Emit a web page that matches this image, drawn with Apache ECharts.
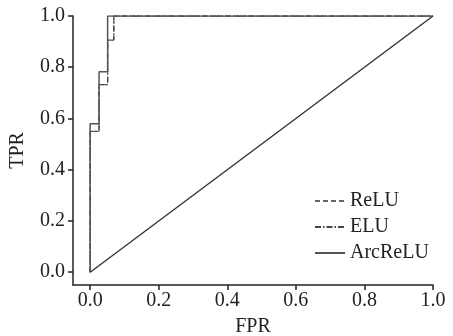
<!DOCTYPE html>
<html>
<head>
<meta charset="utf-8">
<script src="https://cdn.jsdelivr.net/npm/echarts@6/dist/echarts.min.js"></script>
<style>html,body{margin:0;padding:0;background:#fff}#c{width:453px;height:336px}</style>
</head>
<body>
<div id="c"></div>
<script>
var tickValues = [0, 0.2, 0.4, 0.6, 0.8, 1.0];
var reluFPR = [0, 0, 0.026, 0.026, 0.051, 0.051, 0.069, 0.069, 1.0];
var reluTPR = [0, 0.55, 0.55, 0.732, 0.732, 0.906, 0.906, 1.0, 1.0];
var eluFPR = [0, 0, 0.026, 0.026, 0.051, 0.051, 0.069, 0.069, 1.0];
var eluTPR = [0, 0.55, 0.55, 0.732, 0.732, 0.906, 0.906, 1.0, 1.0];
var arcFPR = [0, 0, 0.026, 0.026, 0.051, 0.051, 1.0];
var arcTPR = [0, 0.579, 0.579, 0.782, 0.782, 1.0, 1.0];
var diagFPR = [0, 1.0];
var diagTPR = [0, 1.0];

function pairs(xs, ys) { return xs.map(function (x, i) { return [x, ys[i]]; }); }

var font = "Liberation Serif";
var chart = echarts.init(document.getElementById('c'), null, { renderer: 'canvas' });
chart.setOption({
  animation: false,
  backgroundColor: '#fff',
  grid: { left: 73, right: 20, top: 16, bottom: 51, containLabel: false, outerBoundsMode: 'none' },
  legend: {
    orient: 'vertical', left: 309, top: 186,
    itemWidth: 30, itemHeight: 14, itemGap: 6,
    itemStyle: { opacity: 0 },
    textStyle: { fontFamily: font, fontSize: 20, color: '#222' },
    data: ['ReLU', 'ELU', 'ArcReLU']
  },
  xAxis: {
    type: 'value', min: -0.05, max: 1.0,
    name: 'FPR', nameLocation: 'middle', nameGap: 32,
    nameTextStyle: { fontFamily: font, fontSize: 20, color: '#222' },
    splitLine: { show: false },
    axisLine: { show: true, onZero: false, lineStyle: { color: '#222', width: 1.5 } },
    axisTick: { show: true, inside: false, length: 5, customValues: tickValues, lineStyle: { color: '#222', width: 1.5 } },
    axisLabel: { customValues: tickValues, margin: 6, fontFamily: font, fontSize: 20, color: '#222',
      formatter: function (v) { return v.toFixed(1); } }
  },
  yAxis: {
    type: 'value', min: -0.05, max: 1.0,
    name: 'TPR', nameLocation: 'middle', nameGap: 45, nameRotate: 90,
    nameTextStyle: { fontFamily: font, fontSize: 20, color: '#222' },
    splitLine: { show: false },
    axisLine: { show: true, onZero: false, lineStyle: { color: '#222', width: 1.5 } },
    axisTick: { show: true, inside: false, length: 5, customValues: tickValues, lineStyle: { color: '#222', width: 1.5 } },
    axisLabel: { customValues: tickValues, margin: 8, fontFamily: font, fontSize: 20, color: '#222',
      formatter: function (v) { return v.toFixed(1); } }
  },
  series: [
    { name: 'ReLU', type: 'line', showSymbol: false, symbol: 'none', data: pairs(reluFPR, reluTPR),
      lineStyle: { color: '#666', width: 1.3, type: [5, 3] }, itemStyle: { color: '#666' } },
    { name: 'ELU', type: 'line', showSymbol: false, symbol: 'none', data: pairs(eluFPR, eluTPR),
      lineStyle: { color: '#444', width: 1.3, type: [6, 2, 1.5, 2] }, itemStyle: { color: '#444' } },
    { name: 'ArcReLU', type: 'line', showSymbol: false, symbol: 'none', data: pairs(arcFPR, arcTPR),
      lineStyle: { color: '#555', width: 1.5, type: 'solid' }, itemStyle: { color: '#555' } },
    { name: 'diag', type: 'line', showSymbol: false, symbol: 'none', data: pairs(diagFPR, diagTPR),
      lineStyle: { color: '#333', width: 1.4 }, itemStyle: { color: '#333' } }
  ]
});
</script>
</body>
</html>
